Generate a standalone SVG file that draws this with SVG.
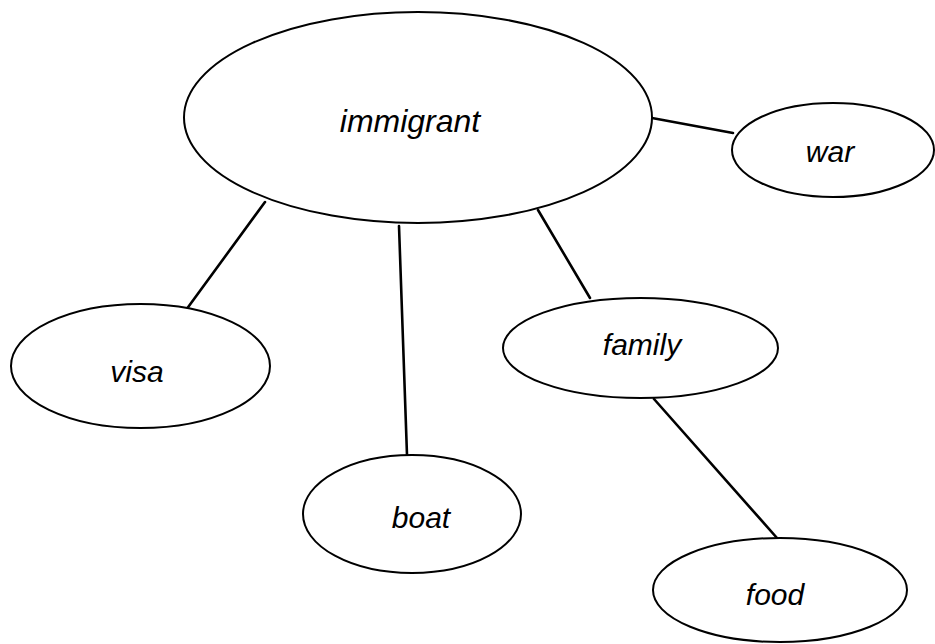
<svg xmlns="http://www.w3.org/2000/svg" width="935" height="644" viewBox="0 0 935 644">
<style>
.n ellipse{fill:#fff;stroke:#000;stroke-width:2}
.n text{font-family:"Liberation Sans","DejaVu Sans",sans-serif;font-style:italic;font-size:30px;fill:#000;text-anchor:middle}
#edges line{stroke:#000;stroke-width:2.6;stroke-linecap:round}
</style>
<rect width="935" height="644" fill="#fff"/>
<g id="edges">
<line x1="652" y1="118" x2="733" y2="133"/>
<line x1="265" y1="202" x2="186" y2="310"/>
<line x1="399" y1="226" x2="407" y2="455"/>
<line x1="538" y1="210" x2="590" y2="298"/>
<line x1="654" y1="399" x2="777" y2="538"/>
</g>
<g id="immigrant" class="n"><ellipse cx="418" cy="117.5" rx="234" ry="105.5"/><text x="410" y="132" style="font-size:32px">immigrant</text></g>
<g id="war" class="n"><ellipse cx="833" cy="150" rx="101" ry="47"/><text x="830" y="162">war</text></g>
<g id="visa" class="n"><ellipse cx="140.5" cy="366" rx="129.5" ry="62"/><text x="137" y="382">visa</text></g>
<g id="family" class="n"><ellipse cx="640.5" cy="348" rx="137.5" ry="50"/><text x="642" y="355">family</text></g>
<g id="boat" class="n"><ellipse cx="412" cy="514" rx="109" ry="59"/><text x="421" y="528">boat</text></g>
<g id="food" class="n"><ellipse cx="780" cy="590" rx="127" ry="52"/><text x="775" y="605">food</text></g>
</svg>
